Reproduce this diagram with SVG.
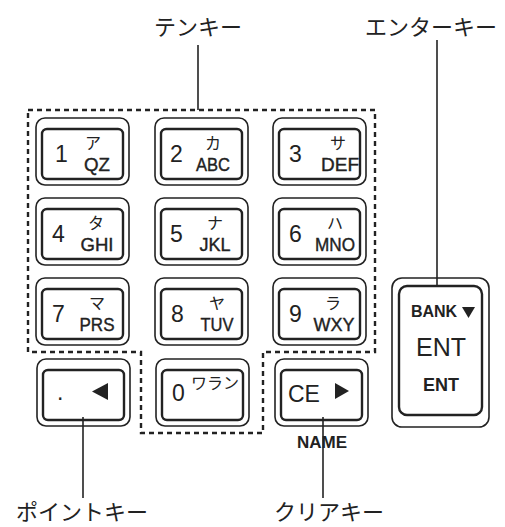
<svg xmlns="http://www.w3.org/2000/svg" width="505" height="527" viewBox="0 0 505 527">
<style>
.outer{fill:none;stroke:#222;stroke-width:1.6}
.inner{fill:none;stroke:#222;stroke-width:2.4}
.lead{fill:none;stroke:#222;stroke-width:1.6}
.dash{fill:none;stroke:#222;stroke-width:2.4;stroke-dasharray:5,4}
.num{font-family:"Liberation Sans",Arial,sans-serif;font-size:23px;fill:#222}
.lat{font-family:"Liberation Sans",Arial,sans-serif;font-size:19px;fill:#222;text-anchor:middle;stroke:#222;stroke-width:0.4}
.kana{font-family:"Noto Sans CJK JP",sans-serif;font-size:16px;fill:#222;text-anchor:middle}
.lbl{font-family:"Noto Sans CJK JP",sans-serif;font-size:22px;fill:#222;text-anchor:middle}
.bold{font-family:"Liberation Sans",Arial,sans-serif;font-weight:bold;fill:#222;text-anchor:middle}
</style>
<defs>
<g id="key">
<rect class="outer" x="0" y="0" width="93" height="67" rx="9"/>
<rect class="inner" x="6" y="11" width="81" height="50" rx="5"/>
</g>
</defs>
<rect width="505" height="527" fill="#fff"/>
<g id="tenkey-area">
<path class="dash" d="M28,110 H375 V352 H263 V433 H141 V352 H28 Z"/>
</g>
<g id="key1"><use href="#key" x="36" y="118"/><text class="num" x="55" y="162">1</text><text class="kana" x="93" y="149">ア</text><text class="lat" x="97" y="171" textLength="26" lengthAdjust="spacingAndGlyphs">QZ</text></g>
<g id="key2"><use href="#key" x="155" y="118"/><text class="num" x="170" y="162">2</text><text class="kana" x="213" y="149">カ</text><text class="lat" x="213" y="171" textLength="34" lengthAdjust="spacingAndGlyphs">ABC</text></g>
<g id="key3"><use href="#key" x="273" y="118"/><text class="num" x="289" y="162">3</text><text class="kana" x="338" y="149">サ</text><text class="lat" x="340" y="171" textLength="38" lengthAdjust="spacingAndGlyphs">DEF</text></g>
<g id="key4"><use href="#key" x="36" y="198"/><text class="num" x="52" y="242">4</text><text class="kana" x="96" y="229">タ</text><text class="lat" x="97" y="251" textLength="33" lengthAdjust="spacingAndGlyphs">GHI</text></g>
<g id="key5"><use href="#key" x="155" y="198"/><text class="num" x="170" y="242">5</text><text class="kana" x="215" y="229">ナ</text><text class="lat" x="215" y="251" textLength="31" lengthAdjust="spacingAndGlyphs">JKL</text></g>
<g id="key6"><use href="#key" x="273" y="198"/><text class="num" x="289" y="242">6</text><text class="kana" x="335" y="229">ハ</text><text class="lat" x="335" y="251" textLength="40" lengthAdjust="spacingAndGlyphs">MNO</text></g>
<g id="key7"><use href="#key" x="36" y="278"/><text class="num" x="52" y="322">7</text><text class="kana" x="97" y="309">マ</text><text class="lat" x="97" y="331" textLength="35" lengthAdjust="spacingAndGlyphs">PRS</text></g>
<g id="key8"><use href="#key" x="155" y="278"/><text class="num" x="171" y="322">8</text><text class="kana" x="217" y="309">ヤ</text><text class="lat" x="217" y="331" textLength="33" lengthAdjust="spacingAndGlyphs">TUV</text></g>
<g id="key9"><use href="#key" x="273" y="278"/><text class="num" x="289" y="322">9</text><text class="kana" x="333" y="309">ラ</text><text class="lat" x="334" y="331" textLength="41" lengthAdjust="spacingAndGlyphs">WXY</text></g>
<g id="point-key"><use href="#key" x="37" y="359"/><text class="num" x="57" y="400">.</text><polygon points="108,383 108,400 92,391.5" fill="#222"/></g>
<g id="key0"><use href="#key" x="156" y="359"/><text class="num" x="172" y="401">0</text><text class="kana" x="215" y="389" font-size="14">ワラン</text></g>
<g id="clear-key"><use href="#key" x="275" y="359"/><text class="num" x="288" y="402" font-size="21">CE</text><polygon points="335,383 335,399 349,391" fill="#222"/><text class="bold" x="322" y="448" font-size="17">NAME</text></g>
<g id="enter-key">
<rect class="outer" x="392" y="278" width="97" height="149" rx="10"/>
<rect class="inner" x="399" y="286" width="83" height="129" rx="8"/>
<text class="bold" x="434" y="317" font-size="16">BANK</text>
<polygon points="462,307 475,307 468.5,318" fill="#222"/>
<text x="441" y="356" font-family="Liberation Sans,Arial,sans-serif" font-size="25" fill="#222" text-anchor="middle">ENT</text>
<text class="bold" x="441" y="391" font-size="18">ENT</text>
</g>
<g id="connectors">
<line class="lead" x1="198" y1="45" x2="198" y2="110"/>
<line class="lead" x1="437" y1="40" x2="437" y2="286"/>
<line class="lead" x1="83" y1="417" x2="83" y2="498"/>
<line class="lead" x1="323" y1="417" x2="323" y2="498"/>
</g>
<g id="labels">
<text class="lbl" x="198" y="35">テンキー</text>
<text class="lbl" x="431" y="35" font-size="23">エンターキー</text>
<text class="lbl" x="82" y="520">ポイントキー</text>
<text class="lbl" x="329" y="520">クリアキー</text>
</g>
</svg>
